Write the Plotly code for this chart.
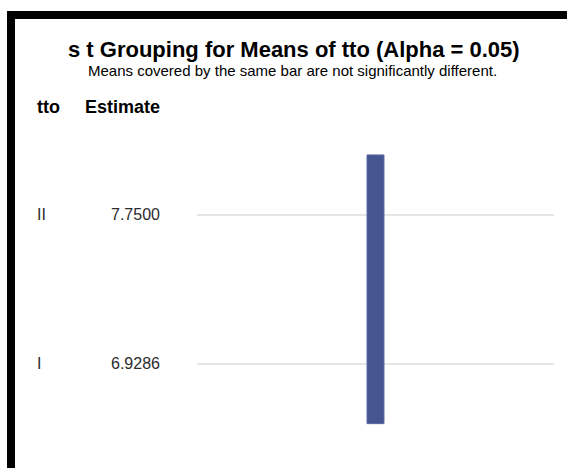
import plotly.graph_objects as go

# ---- data ----
levels = ["I", "II"]              # tto levels (bottom to top)
estimates = [6.9286, 7.7500]      # mean estimates
groups = [["I", "II"]]            # levels covered by the same bar
title_text = "s t Grouping for Means of tto (Alpha = 0.05)"
subtitle_text = "Means covered by the same bar are not significantly different."
col_headers = ["tto", "Estimate"]

# ---- layout geometry (pixels) ----
W, H = 567, 468
ML, MR, MT, MB = 197, 13, 130, 23
PW, PH = W - ML - MR, H - MT - MB

def px(x):
    return (x - ML) / PW

def py(y):
    return (H - MB - y) / PH

FONT = "Liberation Sans, Arial, sans-serif"

fig = go.Figure()

pos = {lv: i for i, lv in enumerate(levels)}
for g in groups:
    idx = [pos[lv] for lv in g]
    lo, hi = min(idx) - 0.4, max(idx) + 0.4
    fig.add_trace(go.Bar(
        x=[1], y=[hi - lo], base=[lo], width=0.095,
        marker=dict(color="#465590", line=dict(color="#5a68a0", width=1)),
        hoverinfo="skip", showlegend=False,
    ))

anns = []
anns.append(dict(text="<b>" + title_text + "</b>", x=px(293.5), y=py(49),
                 xref="paper", yref="paper", xanchor="center", yanchor="middle",
                 showarrow=False, font=dict(family=FONT, size=22, color="#000000")))
anns.append(dict(text=subtitle_text, x=px(292.5), y=py(70),
                 xref="paper", yref="paper", xanchor="center", yanchor="middle",
                 showarrow=False, font=dict(family=FONT, size=15, color="#000000")))
anns.append(dict(text="<b>" + col_headers[0] + "</b>", x=px(35), y=py(107),
                 xref="paper", yref="paper", xanchor="left", yanchor="middle",
                 showarrow=False, font=dict(family=FONT, size=18, color="#000000")))
anns.append(dict(text="<b>" + col_headers[1] + "</b>", x=px(162), y=py(107),
                 xref="paper", yref="paper", xanchor="right", yanchor="middle",
                 showarrow=False, font=dict(family=FONT, size=18, color="#000000")))
for lv, est in zip(levels, estimates):
    anns.append(dict(text=lv, x=px(35), y=pos[lv], xref="paper", yref="y",
                     xanchor="left", yanchor="middle", showarrow=False,
                     font=dict(family=FONT, size=16, color="#2b2b2b")))
    anns.append(dict(text=f"{est:.4f}", x=px(162), y=pos[lv], xref="paper", yref="y",
                     xanchor="right", yanchor="middle", showarrow=False,
                     font=dict(family=FONT, size=16, color="#2b2b2b")))

shapes = [dict(type="rect", xref="paper", yref="paper",
               x0=px(11), x1=px(590), y0=py(15), y1=py(490),
               line=dict(color="#000000", width=8), fillcolor="rgba(0,0,0,0)", layer="above")]

fig.update_layout(
    width=W, height=H,
    margin=dict(l=ML, r=MR, t=MT, b=MB, pad=0),
    paper_bgcolor="#ffffff", plot_bgcolor="#ffffff",
    xaxis=dict(range=[0, 2], visible=False, fixedrange=True),
    yaxis=dict(range=[-0.543, 1.567], tickvals=list(range(len(levels))),
               showticklabels=False, showgrid=True, gridcolor="#e6e6e6", gridwidth=2,
               zeroline=False, showline=False, ticks="", fixedrange=True),
    annotations=anns, shapes=shapes, showlegend=False,
)

fig.write_html("out.html")
